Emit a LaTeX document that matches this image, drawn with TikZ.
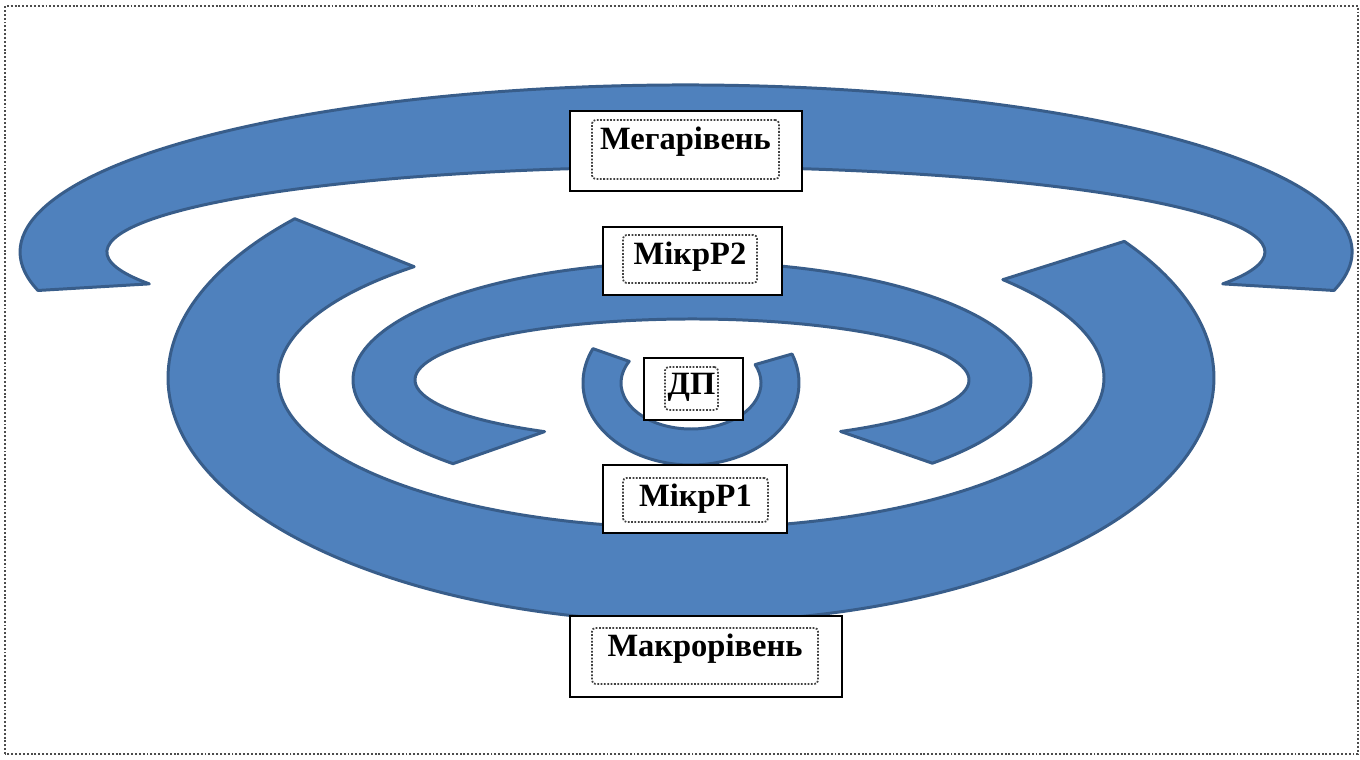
\documentclass[tikz,border=0pt]{standalone}
\usepackage{fontspec}
\setmainfont{Liberation Serif}
\usepackage{xcolor}
\usetikzlibrary{calc}
\definecolor{arcfill}{HTML}{4F81BD}
\definecolor{arcline}{HTML}{385D8A}

\tikzset{
  blockarc/.style={fill=arcfill, draw=arcline, line width=1.7pt, line join=round},
  lblbox/.style={draw=black, fill=white, line width=1.2pt, inner sep=0pt},
  lbltext/.style={draw=black!75, dash pattern=on 1pt off 0.9pt, line width=1pt,
    rounded corners=2pt, inner sep=0pt, align=center,
    font=\fontsize{18.5}{22}\selectfont\bfseries},
  frame/.style={draw=gray!60!black, line width=1.1pt, dash pattern=on 1.1pt off 1.1pt}
}

\providecommand{\BlockArc}[7]{
  % centre, outer radii, inner radii, start and end angle (seen from the centre)
  \coordinate (ctr) at (#1);
  % angles on the ellipses
  \pgfmathsetmacro{\os}{#6+mod(atan2(#2*sin(#6),#3*cos(#6))-(#6)+900,360)-180}
  \pgfmathsetmacro{\oe}{#7+mod(atan2(#2*sin(#7),#3*cos(#7))-(#7)+900,360)-180}
  \pgfmathsetmacro{\is}{#6+mod(atan2(#4*sin(#6),#5*cos(#6))-(#6)+900,360)-180}
  \pgfmathsetmacro{\ie}{#7+mod(atan2(#4*sin(#7),#5*cos(#7))-(#7)+900,360)-180}

  \filldraw[blockarc] ($ (ctr)+(\os:#2 and #3) $)
    arc[start angle=\os, end angle=\oe, x radius=#2, y radius=#3]
    -- ($ (ctr)+(\ie:#4 and #5) $)
    arc[start angle=\ie, end angle=\is, x radius=#4, y radius=#5] -- cycle;
}

\begin{document}
\begin{tikzpicture}[x=0.02cm, y=0.02cm]

	\useasboundingbox (0,0) rectangle (1360,760);
	\draw[frame] (5,6) rectangle (1358,754);

	% the four arcs
	\BlockArc{686,508}{666}{167}{579}{85}{-3.4}{183.4}
	\BlockArc{691,382}{523}{244}{413}{150}{158.1}{377.5}
	\BlockArc{692,380}{339}{118}{277}{61}{-19.1}{199.3}
	\BlockArc{691,377}{108}{82}{70}{46}{160.7}{376}

	% labels
	\node[lblbox, minimum width=4.64cm, minimum height=1.6cm] (mega) at (686,609) {};
	\node[lbltext, text width=3.74cm, text height=0.6cm, text depth=0.58cm] (megatext) at (685.5,610.5) {Мегарівень};

	\node[lblbox, minimum width=3.58cm, minimum height=1.36cm] (mikr2) at (692.5,499) {};
	\node[lbltext, text width=2.68cm, text height=0.6cm, text depth=0.36cm] (mikr2text) at (690,501) {МікрР2};

	\node[lblbox, minimum width=1.98cm, minimum height=1.24cm] (dp) at (693.5,371) {};
	\node[lbltext, text width=1.06cm, text height=0.56cm, text depth=0.3cm] (dptext) at (691.5,371.5) {ДП};

	\node[lblbox, minimum width=3.68cm, minimum height=1.36cm] (mikr1) at (695,261) {};
	\node[lbltext, text width=2.9cm, text height=0.58cm, text depth=0.3cm] (mikr1text) at (695.5,260) {МікрР1};

	\node[lblbox, minimum width=5.44cm, minimum height=1.62cm] (makro) at (706,103.5) {};
	\node[lbltext, text width=4.52cm, text height=0.58cm, text depth=0.54cm] (makrotext) at (705,104) {Макрорівень};

\end{tikzpicture}
\end{document}
